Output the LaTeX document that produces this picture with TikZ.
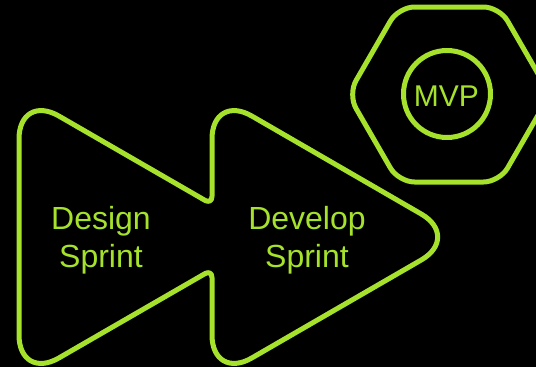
\documentclass[tikz,border=0pt]{standalone}
\usepackage{fontspec}
\setmainfont{Liberation Sans}
\definecolor{lime}{RGB}{166,226,44}
\begin{document}
\begin{tikzpicture}[x=1pt,y=-1pt,
  outline/.style={draw=lime,line width=5pt,line join=round},
  lbl/.style={text=lime,align=center,inner sep=0pt,font=\fontsize{32}{38}\selectfont},
  mvplbl/.style={text=lime,inner sep=0pt,font=\fontsize{30}{36}\selectfont}]
\fill[black] (0,0) rectangle (536,367);
\useasboundingbox (0,0) rectangle (536,367);
\clip (0,0) rectangle (536,367);
% fast-forward outline
\draw[outline,rounded corners=46pt] (19,237) -- (19,93) [rounded corners=8pt] -- (212,204.4) [rounded corners=46pt] -- (212,93) -- (461,237) -- (212,381) [rounded corners=8pt] -- (212,269.6) [rounded corners=46pt] -- (19,381) -- cycle;
% hexagon
\draw[outline,rounded corners=16pt] (449,7) -- (499.5,7) -- (550,94.5) -- (499.5,182) -- (398.5,182) -- (348,94.5) -- (398.5,7) -- cycle;
% circle
\coordinate (mvpc) at (447,94);
\draw[outline] (mvpc) circle[radius=43.5];
\node[lbl] (design) at (101,240) {Design\\Sprint};
\node[lbl] (develop) at (307,240) {Develop\\Sprint};
\node[mvplbl] (mvp) at (446.5,96) {MVP};
\end{tikzpicture}
\end{document}
